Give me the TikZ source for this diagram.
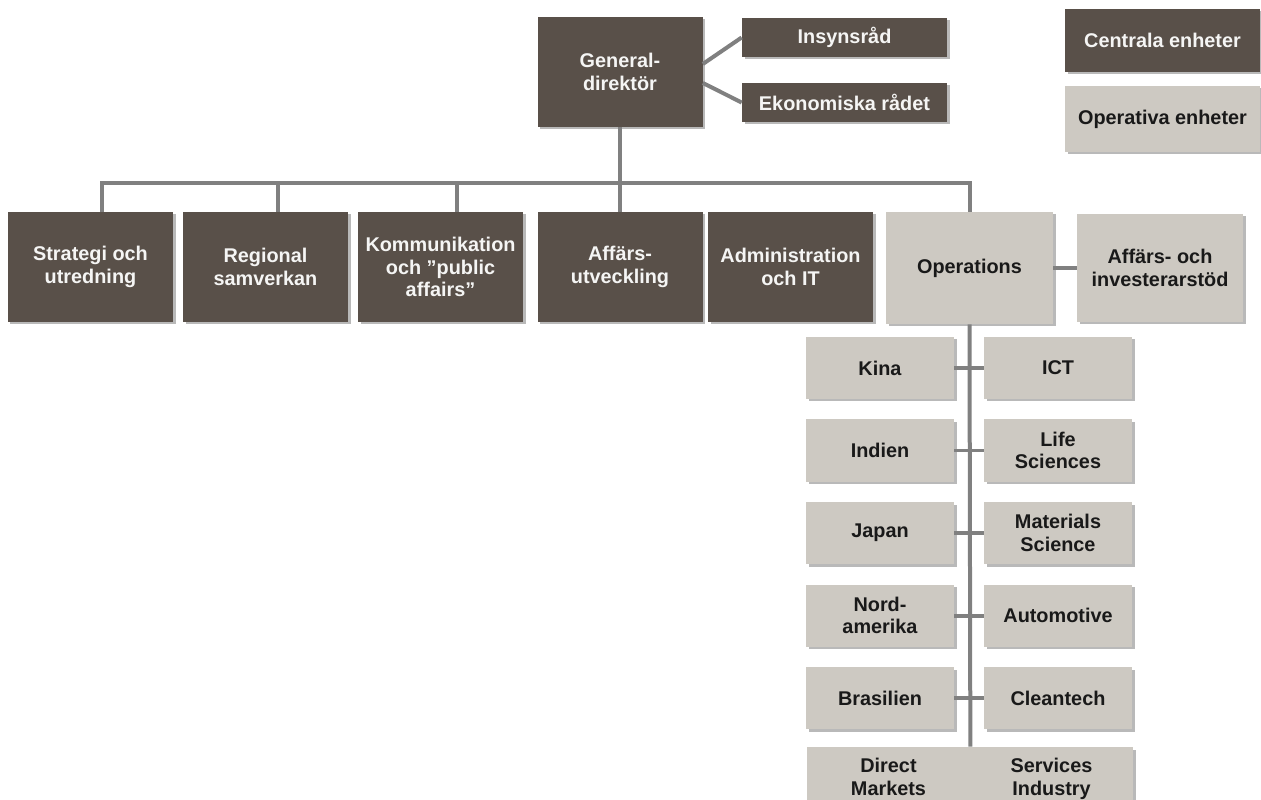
\documentclass[tikz,border=0pt]{standalone}
\usepackage{fontspec}
\setmainfont{Liberation Sans}
\usetikzlibrary{shadows}
\definecolor{central}{RGB}{89,80,73}
\definecolor{operative}{RGB}{205,201,194}
\definecolor{linkgray}{RGB}{128,128,128}

\begin{document}
\begin{tikzpicture}[x=0.02cm,y=-0.02cm,
  every node/.style={font=\bfseries\fontsize{11.3}{12.8}\selectfont,align=center,inner sep=0pt},
  unit/.style 2 args={rectangle,minimum width=#1*0.02cm,minimum height=#2*0.02cm,
    drop shadow={shadow xshift=0.05cm,shadow yshift=-0.05cm,opacity=0.55}},
  cbox/.style={fill=central,text=white!94!central},
  obox/.style={fill=operative,text=black!90},
  link/.style={draw=linkgray,line width=0.08cm}
]
\useasboundingbox (0,0) rectangle (1261,800);

\node[cbox,unit={165}{110}] (gen) at (620,72) {General-\\direktör};
\node[cbox,unit={205}{39}] (insyn) at (844.5,37.5) {Insynsråd};
\node[cbox,unit={205}{39}] (ekon) at (844.5,102.5) {Ekonomiska rådet};
\node[cbox,unit={195}{63}] (centrala) at (1162.5,40.5) {Centrala enheter};
\node[obox,unit={195}{66}] (operativa) at (1162.5,119) {Operativa enheter};

\foreach \name/\xc/\txt in {strat/90.5/{Strategi och\\utredning},reg/265.5/{Regional\\samverkan},
  kom/440.5/{Kommunikation\\och ”public\\affairs”},aff/620/{Affärs-\\utveckling},adm/790.5/{Administration\\och IT}}
  \node[cbox,unit={165}{110}] (\name) at (\xc,267) {\txt};

\node[obox,unit={167}{112}] (ops) at (969.5,268) {Operations};
\node[obox,unit={166}{108}] (invest) at (1160,268) {Affärs- och\\investerarstöd};

\foreach \i/\lnd/\sek in {0/Kina/ICT,1/Indien/{Life\\Sciences},2/Japan/{Materials\\Science},
  3/{Nord-\\amerika}/Automotive,4/Brasilien/Cleantech} {
  \node[obox,unit={148}{62}] (land\i) at (880,368+82.5*\i) {\lnd};
  \node[obox,unit={148}{62}] (sektor\i) at (1058,368+82.5*\i) {\sek};
  \draw[link] (land\i) -- (sektor\i);
}
\node[obox,unit={163}{64}] (direct) at (888.5,779) {Direct\\Markets\vphantom{y}};
\node[obox,unit={163}{64}] (services) at (1051.5,779) {Services\\Industry};

\coordinate (bus) at (620,183);
\draw[link] ([yshift=0.16cm]gen.east) -- (insyn.west);
\draw[link] ([yshift=-0.22cm]gen.east) -- (ekon.west);
\draw[link] (gen.south) -- (aff.north);
\draw[link] ([xshift=0.23cm]strat.north) |- (bus) -| (ops.north);
\foreach \n/\dx in {reg/12.5,kom/16.5}
  \draw[link] ([xshift=\dx*0.02cm]\n.north) -- ++(0,-29);
\draw[link] (ops.east) -- (invest.west);
\draw[link] (ops.south) -- (direct.north east);
\end{tikzpicture}
\end{document}
